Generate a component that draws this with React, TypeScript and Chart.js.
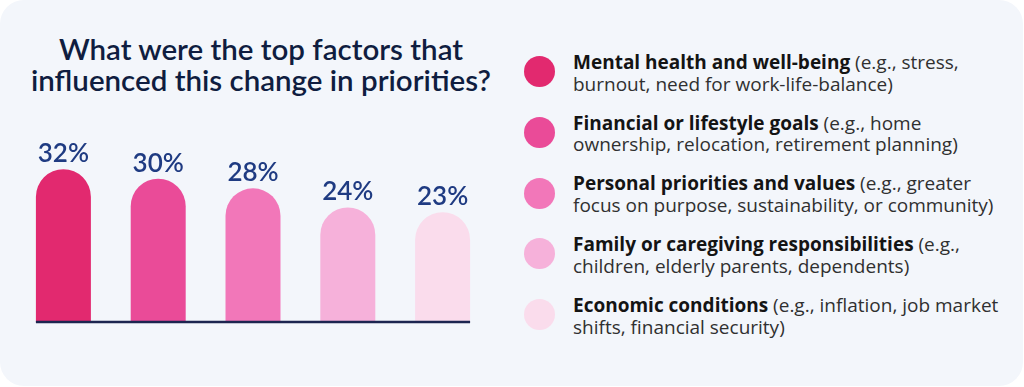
import React, { useEffect, useRef } from "react";
import { Chart, registerables } from "chart.js";

Chart.register(...registerables);

const titleLines = ["What were the top factors that", "influenced this change in priorities?"];
const categories = [
  "Mental health and well-being",
  "Financial or lifestyle goals",
  "Personal priorities and values",
  "Family or caregiving responsibilities",
  "Economic conditions",
];
const detailFirstLine = ["(e.g., stress,", "(e.g., home", "(e.g., greater", "(e.g.,", "(e.g., inflation, job market"];
const detailSecondLine = [
  "burnout, need for work-life-balance)",
  "ownership, relocation, retirement planning)",
  "focus on purpose, sustainability, or community)",
  "children, elderly parents, dependents)",
  "shifts, financial security)",
];
const values = [32, 30, 28, 24, 23];
const barColors = ["#e2296f", "#ea4b98", "#f277b9", "#f6b1da", "#fadcec"];

const FONT = "Lato, 'Noto Sans', sans-serif";
const LEGEND_FONT = "'Open Sans', 'Noto Sans', sans-serif";

export default function App() {
  const canvasRef = useRef<HTMLCanvasElement | null>(null);

  useEffect(() => {
    const canvas = canvasRef.current;
    if (!canvas) return;

    const labelsAndBase = {
      id: "labelsAndBase",
      afterDatasetsDraw(chart: any) {
        const ctx = chart.ctx;
        const meta = chart.getDatasetMeta(0);
        const bars = meta.data;
        if (!bars.length) return;
        const yScale = chart.scales.y;
        const y0 = yScale.getPixelForValue(0);
        const first = bars[0].getProps(["x", "width"], true);
        const last = bars[bars.length - 1].getProps(["x", "width"], true);
        ctx.save();
        ctx.strokeStyle = "#1c2550";
        ctx.lineWidth = 2.5;
        ctx.beginPath();
        ctx.moveTo(first.x - first.width / 2, y0);
        ctx.lineTo(last.x + last.width / 2, y0);
        ctx.stroke();
        ctx.fillStyle = "#1f3b82";
        ctx.font = `600 26px ${FONT}`;
        ctx.textAlign = "center";
        ctx.textBaseline = "alphabetic";
        bars.forEach((bar: any, i: number) => {
          const p = bar.getProps(["x", "y"], true);
          ctx.fillText(`${values[i]}%`, p.x, p.y - 7);
        });
        ctx.restore();
      },
    };

    const chart = new Chart(canvas, {
      type: "bar",
      data: {
        labels: categories,
        datasets: [
          {
            data: values,
            backgroundColor: barColors,
            borderWidth: 0,
            borderRadius: { topLeft: 200, topRight: 200, bottomLeft: 0, bottomRight: 0 },
            borderSkipped: "bottom",
            categoryPercentage: 1,
            barPercentage: 0.58,
          },
        ],
      },
      options: {
        responsive: false,
        animation: false,
        devicePixelRatio: 1,
        layout: { padding: { left: 16, right: 30, top: 131, bottom: 65 } },
        plugins: { legend: { display: false }, tooltip: { enabled: false }, title: { display: false } },
        scales: {
          x: { display: false },
          y: { display: false, min: 0, max: 40 },
        },
      },
      plugins: [labelsAndBase],
    });
    return () => chart.destroy();
  }, []);

  return (
    <div
      style={{
        position: "absolute",
        left: 0,
        top: 0,
        width: 1024,
        height: 387,
        background: "#ffffff",
        overflow: "hidden",
        fontFamily: FONT,
      }}
    >
      <div
        style={{
          position: "absolute",
          left: 0,
          top: 0,
          width: 1023,
          height: 386,
          borderRadius: 24,
          background: "#f3f6fb",
        }}
      />
      <div
        style={{
          position: "absolute",
          left: 0,
          top: 32.7,
          width: 522,
          textAlign: "center",
          fontSize: 29.5,
          lineHeight: "31.7px",
          fontWeight: 600,
          color: "#0f1d40",
          whiteSpace: "nowrap",
        }}
      >
        {titleLines.map((t, i) => (
          <div key={i}>{t}</div>
        ))}
      </div>
      <canvas ref={canvasRef} width={520} height={387} style={{ position: "absolute", left: 0, top: 0 }} />
      {categories.map((c, i) => (
        <div key={c} style={{ position: "absolute", left: 0, top: 0 }}>
          <div
            style={{
              position: "absolute",
              left: 524,
              top: 56 + i * 60.8,
              width: 31,
              height: 31,
              borderRadius: "50%",
              background: barColors[i],
            }}
          />
          <div
            style={{
              position: "absolute",
              left: 573,
              top: 51.8 + i * 60.8,
              fontFamily: LEGEND_FONT,
              fontSize: 19,
              lineHeight: "21.7px",
              color: "#303030",
              whiteSpace: "nowrap",
            }}
          >
            <div>
              <span style={{ fontWeight: 700, color: "#141414" }}>{c}</span> {detailFirstLine[i]}
            </div>
            <div>{detailSecondLine[i]}</div>
          </div>
        </div>
      ))}
    </div>
  );
}
